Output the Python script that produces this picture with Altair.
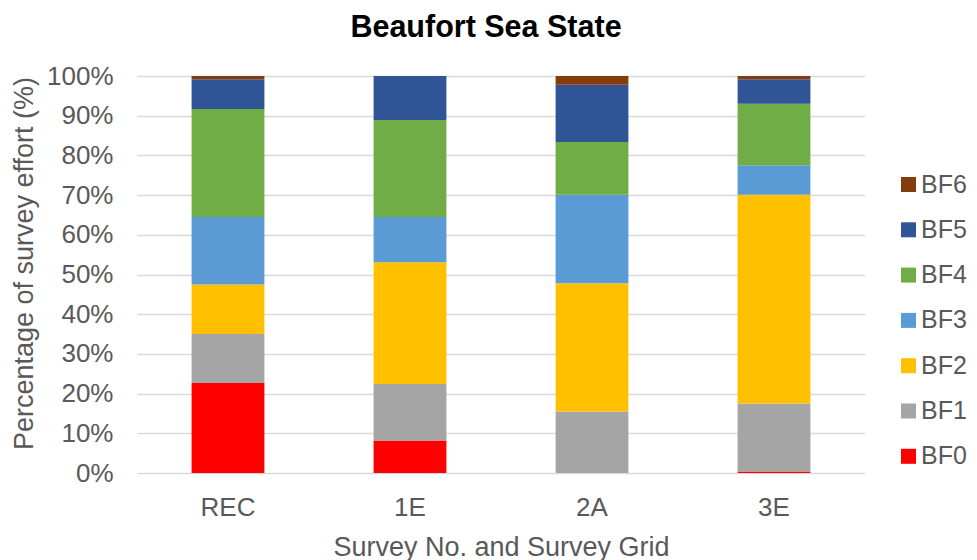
import altair as alt
import pandas as pd

surveys = ["REC", "1E", "2A", "3E"]
classes = ["BF0", "BF1", "BF2", "BF3", "BF4", "BF5", "BF6"]
colors = ["#FF0000", "#A5A5A5", "#FFC000", "#5B9BD5", "#70AD47", "#2F5597", "#843C0C"]

# percentage of survey effort per Beaufort class, per survey
bf0 = [22.7, 8.2, 0.0, 0.4]
bf1 = [12.3, 14.2, 15.5, 17.1]
bf2 = [12.5, 30.7, 32.3, 52.6]
bf3 = [17.0, 11.4, 22.3, 7.4]
bf4 = [27.2, 24.4, 13.3, 15.5]
bf5 = [7.5, 11.1, 14.4, 6.2]
bf6 = [0.8, 0.0, 2.2, 0.8]

series = [bf0, bf1, bf2, bf3, bf4, bf5, bf6]
rows = []
for ci, (cls, vals) in enumerate(zip(classes, series)):
    for s, v in zip(surveys, vals):
        rows.append({"survey": s, "cls": cls, "idx": ci, "pct": v})
df = pd.DataFrame(rows)

FONT = "Liberation Sans"
GREY = "#595959"

chart = alt.Chart(df).mark_bar().encode(
    x=alt.X("survey:N", sort=surveys,
            scale=alt.Scale(paddingInner=0.6, paddingOuter=0.3),
            axis=alt.Axis(title="Survey No. and Survey Grid", labelAngle=0,
                          labelFontSize=26, labelColor=GREY, labelFont=FONT,
                          labelPadding=21, ticks=False, domain=False,
                          titleFontSize=27, titleColor=GREY, titleFont=FONT,
                          titleFontWeight="normal", titleBaseline="alphabetic",
                          titleY=82)),
    y=alt.Y("pct:Q", stack="zero",
            scale=alt.Scale(domain=[0, 100], nice=False),
            axis=alt.Axis(title="Percentage of survey effort (%)",
                          values=list(range(0, 101, 10)),
                          labelExpr="datum.value + '%'",
                          labelFontSize=26, labelColor=GREY, labelFont=FONT,
                          labelPadding=24, ticks=False, domain=False,
                          grid=True, gridColor="#D9D9D9", gridWidth=1.5,
                          titleFontSize=27, titleColor=GREY, titleFont=FONT,
                          titleFontWeight="normal", titleAngle=270,
                          titleBaseline="middle", titleX=-113, titleY=187)),
    color=alt.Color("cls:N",
                    scale=alt.Scale(domain=classes[::-1], range=colors[::-1]),
                    legend=alt.Legend(title=None, orient="none",
                                      legendX=759, legendY=96,
                                      symbolType="square", symbolSize=225,
                                      symbolStrokeWidth=0,
                                      labelFontSize=25, labelColor=GREY,
                                      labelFont=FONT, labelOffset=0,
                                      labelLimit=0,
                                      rowPadding=19.3, padding=0)),
    order=alt.Order("idx:Q", sort="ascending"),
).properties(
    width=728,
    height=397,
    title=alt.TitleParams("Beaufort Sea State", fontSize=30.5, font=FONT,
                          fontWeight="bold", color="#000000",
                          anchor="middle", dx=-15, offset=20),
    autosize=alt.AutoSizeParams(type="none"),
    padding={"left": 129, "top": 68, "right": 104, "bottom": 87},
).configure_view(stroke=None)

chart.save("out.html", embed_options={"renderer": "svg", "actions": False})
